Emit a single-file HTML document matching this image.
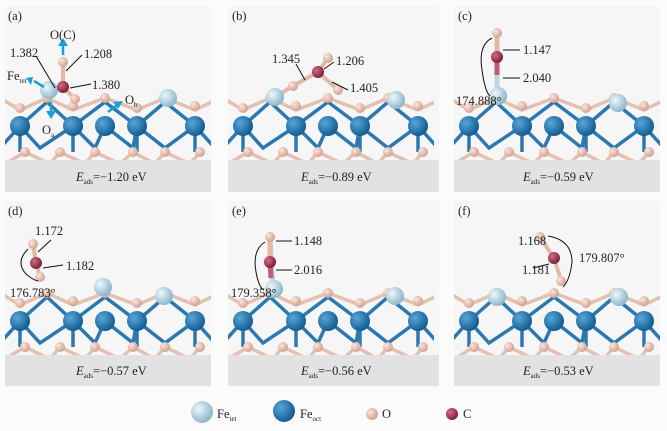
<!DOCTYPE html>
<html><head><meta charset="utf-8"><style>
html,body{margin:0;padding:0;background:#fbfbfb;}
svg{display:block}
text{font-family:"Liberation Serif",serif;font-size:12.5px;fill:#222}
</style></head><body>
<svg width="667" height="431" viewBox="0 0 667 431" xmlns="http://www.w3.org/2000/svg">
<defs>
<radialGradient id="gt" cx="35%" cy="35%" r="65%"><stop offset="0" stop-color="#eef7fb"/><stop offset="1" stop-color="#8fb8cb"/></radialGradient>
<radialGradient id="go" cx="35%" cy="35%" r="65%"><stop offset="0" stop-color="#5aa6d8"/><stop offset="1" stop-color="#135e94"/></radialGradient>
<radialGradient id="gp" cx="35%" cy="35%" r="65%"><stop offset="0" stop-color="#fbe6dc"/><stop offset="1" stop-color="#d1a393"/></radialGradient>
<radialGradient id="gc" cx="35%" cy="35%" r="65%"><stop offset="0" stop-color="#d66b85"/><stop offset="1" stop-color="#7d2139"/></radialGradient>
<clipPath id="cp"><rect x="0" y="0" width="206" height="154"/></clipPath>
<g id="slab">
 <g stroke-width="3.5">
  <path d="M-5,92 L15,104 L42,92 L68,104 L100,92 L132,104 L160,92 L190,104 L215,92" stroke="#e3c0b0" fill="none"/>
  <path d="M-5,142 L15,120 L35,142 L68,120 L90,142 L100,120 L128,142 L132,120 L160,142 L190,120 L210,142" stroke="#2b78b0" fill="none"/>
  <path d="M15,120 L42,96 M68,120 L42,96 M68,120 L100,96 M132,120 L100,96 M132,120 L160,96 M190,120 L160,96" stroke="#2b78b0" fill="none"/>
  <path d="M0,158 L20,146 L45,158 L55,146 L80,158 L90,146 L115,158 L128,146 L150,158 L160,146 L185,158 L195,146" stroke="#e3c0b0" fill="none"/>
  <path d="M15,120 V146 M68,120 V146 M132,120 V146 M190,120 V146" stroke="#2b78b0"/>
 </g>
 <g fill="url(#gp)">
  <circle cx="15" cy="102" r="5"/><circle cx="42" cy="92" r="5"/><circle cx="68" cy="100" r="5"/><circle cx="100" cy="92" r="5"/><circle cx="132" cy="102" r="5"/><circle cx="160" cy="92" r="5"/><circle cx="190" cy="100" r="5"/>
  <circle cx="20" cy="146" r="5"/><circle cx="55" cy="146" r="5"/><circle cx="90" cy="146" r="5"/><circle cx="128" cy="146" r="5"/><circle cx="160" cy="146" r="5"/><circle cx="195" cy="146" r="5"/>
 </g>
 <g fill="url(#go)">
  <circle cx="15" cy="120" r="10"/><circle cx="68" cy="120" r="10"/><circle cx="100" cy="120" r="10"/><circle cx="132" cy="120" r="10"/><circle cx="190" cy="120" r="10"/>
 </g>
</g>
</defs>

<g>
 <rect x="5" y="6" width="206" height="186" fill="#f6f6f6"/><rect x="5" y="160" width="206" height="32" fill="#e2e2e2"/>
 <rect x="228" y="6" width="211" height="186" fill="#f6f6f6"/><rect x="228" y="160" width="211" height="32" fill="#e2e2e2"/>
 <rect x="454" y="6" width="206" height="186" fill="#f6f6f6"/><rect x="454" y="160" width="206" height="32" fill="#e2e2e2"/>
 <rect x="5" y="201" width="206" height="185" fill="#f6f6f6"/><rect x="5" y="355" width="206" height="31" fill="#e2e2e2"/>
 <rect x="228" y="201" width="211" height="185" fill="#f6f6f6"/><rect x="228" y="355" width="211" height="31" fill="#e2e2e2"/>
 <rect x="454" y="201" width="206" height="185" fill="#f6f6f6"/><rect x="454" y="355" width="206" height="31" fill="#e2e2e2"/>
</g>
<g transform="translate(5,6)"><g clip-path="url(#cp)"><use href="#slab"/></g></g>
<g transform="translate(228,6)"><g clip-path="url(#cp)"><use href="#slab"/></g></g>
<g transform="translate(454,6)"><g clip-path="url(#cp)"><use href="#slab"/></g></g>
<g transform="translate(5,201)"><g clip-path="url(#cp)"><use href="#slab"/></g></g>
<g transform="translate(228,201)"><g clip-path="url(#cp)"><use href="#slab"/></g></g>
<g transform="translate(454,201)"><g clip-path="url(#cp)"><use href="#slab"/></g></g>

<!-- (a) -->
<text x="8" y="20">(a)</text>
<line x1="48" y1="90" x2="63" y2="87" stroke="#c9a9b0" stroke-width="4"/>
<line x1="63" y1="87" x2="63" y2="62" stroke="#e3b9a6" stroke-width="4"/>
<line x1="63" y1="87" x2="75" y2="99" stroke="#e3b9a6" stroke-width="4"/>
<circle cx="49" cy="90" r="9" fill="url(#gt)"/>
<circle cx="168" cy="98" r="9" fill="url(#gt)"/>
<circle cx="63" cy="62" r="5" fill="url(#gp)"/>
<circle cx="63" cy="87" r="6" fill="url(#gc)"/>
<circle cx="75" cy="99" r="5" fill="url(#gp)"/>
<g stroke="#1aa0d8" stroke-width="2.5" fill="#1aa0d8">
<line x1="63" y1="55" x2="63" y2="45"/><path d="M58,46 L63,38 L68,46Z" stroke="none"/>
<line x1="44" y1="87" x2="34" y2="81"/><path d="M33,77 L26,78 L31,85Z" stroke="none"/>
<line x1="51" y1="102" x2="51" y2="112"/><path d="M46,111 L51,119 L56,111Z" stroke="none"/>
<line x1="108" y1="112" x2="116" y2="106"/><path d="M113,102 L123,101 L118,109Z" stroke="none"/>
</g>
<g stroke="#111" stroke-width="1">
<line x1="36" y1="56" x2="55" y2="88"/><line x1="66" y1="71" x2="82" y2="55"/><line x1="70" y1="88" x2="91" y2="84"/>
</g>
<text x="50" y="39">O(C)</text><text x="10" y="57">1.382</text><text x="84" y="58">1.208</text>
<text x="7" y="80">Fe<tspan font-size="7" dy="3">tet</tspan></text>
<text x="92" y="89">1.380</text><text x="125" y="104">O<tspan font-size="7" dy="3">b</tspan></text>
<text x="42" y="134">O<tspan font-size="7" dy="3">a</tspan></text>

<!-- (b) -->
<text x="232" y="20">(b)</text>
<g stroke="#e3b9a6" stroke-width="4"><line x1="275" y1="97" x2="293" y2="86"/><line x1="293" y1="86" x2="318" y2="72"/><line x1="318" y1="72" x2="328" y2="58"/><line x1="318" y1="72" x2="338" y2="90"/></g>
<circle cx="275" cy="97" r="9" fill="url(#gt)"/><circle cx="396" cy="100" r="9" fill="url(#gt)"/>
<circle cx="293" cy="86" r="5" fill="url(#gp)"/><circle cx="328" cy="58" r="5" fill="url(#gp)"/><circle cx="338" cy="90" r="5" fill="url(#gp)"/>
<circle cx="318" cy="72" r="6" fill="url(#gc)"/>
<g stroke="#111"><line x1="296" y1="64" x2="305" y2="80"/><line x1="324" y1="69" x2="334" y2="62"/><line x1="332" y1="82" x2="348" y2="90"/></g>
<text x="272" y="63">1.345</text><text x="336" y="65">1.206</text><text x="350" y="92">1.405</text>

<!-- (c) -->
<text x="458" y="20">(c)</text>
<line x1="497" y1="34" x2="497" y2="95" stroke="#b9d6e2" stroke-width="5"/>
<line x1="497" y1="34" x2="497" y2="57" stroke="#e3b9a6" stroke-width="5"/>
<line x1="497" y1="57" x2="497" y2="75" stroke="#c35a75" stroke-width="5"/>
<circle cx="498" cy="96" r="9" fill="url(#gt)"/><circle cx="618" cy="103" r="9" fill="url(#gt)"/>
<circle cx="497" cy="33" r="5" fill="url(#gp)"/><circle cx="497" cy="57" r="6" fill="url(#gc)"/>
<g stroke="#111" fill="none"><line x1="503" y1="50" x2="520" y2="50"/><line x1="503" y1="78" x2="520" y2="78"/><path d="M492,38 Q478,45 482,70 Q485,92 490,96"/></g>
<text x="523" y="54">1.147</text><text x="523" y="82">2.040</text><text x="456" y="105">174.888°</text>

<!-- (d) -->
<text x="8" y="215">(d)</text>
<g stroke="#e3b9a6" stroke-width="4"><line x1="33" y1="244" x2="36" y2="263"/><line x1="36" y1="263" x2="40" y2="277"/></g>
<circle cx="103" cy="287" r="9" fill="url(#gt)"/><circle cx="164" cy="296" r="9" fill="url(#gt)"/>
<circle cx="33" cy="244" r="5" fill="url(#gp)"/><circle cx="36" cy="263" r="6" fill="url(#gc)"/><circle cx="40" cy="277" r="5" fill="url(#gp)"/>
<g stroke="#111" fill="none"><line x1="38" y1="252" x2="51" y2="240"/><line x1="43" y1="268" x2="63" y2="265"/><path d="M28,249 Q15,262 26,274 Q33,280 38,281"/></g>
<text x="35" y="235">1.172</text><text x="66" y="270">1.182</text><text x="10" y="297">176.783°</text>

<!-- (e) -->
<text x="232" y="215">(e)</text>
<line x1="270" y1="238" x2="273" y2="288" stroke="#b9d6e2" stroke-width="5"/>
<line x1="270" y1="238" x2="270" y2="262" stroke="#e3b9a6" stroke-width="5"/>
<line x1="270" y1="262" x2="271" y2="278" stroke="#c35a75" stroke-width="5"/>
<circle cx="274" cy="289" r="9" fill="url(#gt)"/><circle cx="395" cy="296" r="9" fill="url(#gt)"/>
<circle cx="270" cy="237" r="5" fill="url(#gp)"/><circle cx="270" cy="262" r="6" fill="url(#gc)"/>
<g stroke="#111" fill="none"><line x1="276" y1="241" x2="292" y2="241"/><line x1="276" y1="270" x2="292" y2="270"/><path d="M265,242 Q252,250 256,272 Q259,288 264,290"/></g>
<text x="294" y="245">1.148</text><text x="294" y="274">2.016</text><text x="231" y="297">179.358°</text>

<!-- (f) -->
<text x="458" y="215">(f)</text>
<g stroke="#e3b9a6" stroke-width="4"><line x1="540" y1="237" x2="554" y2="258"/><line x1="554" y1="258" x2="561" y2="280"/></g>
<circle cx="497" cy="297" r="9" fill="url(#gt)"/><circle cx="619" cy="297" r="9" fill="url(#gt)"/>
<circle cx="540" cy="237" r="5" fill="url(#gp)"/><circle cx="554" cy="258" r="6" fill="url(#gc)"/><circle cx="561" cy="281" r="5" fill="url(#gp)"/>
<g stroke="#111" fill="none"><line x1="549" y1="264" x2="533" y2="268"/><path d="M548,236 Q572,240 572,262 Q570,280 563,287"/></g>
<text x="518" y="245">1.168</text><text x="522" y="274">1.181</text><text x="579" y="262">179.807°</text>

<g>
<text x="76" y="181"><tspan font-style="italic">E</tspan><tspan font-size="7" dy="3">ads</tspan><tspan dy="-3">=−1.20 eV</tspan></text>
<text x="301" y="181"><tspan font-style="italic">E</tspan><tspan font-size="7" dy="3">ads</tspan><tspan dy="-3">=−0.89 eV</tspan></text>
<text x="523" y="181"><tspan font-style="italic">E</tspan><tspan font-size="7" dy="3">ads</tspan><tspan dy="-3">=−0.59 eV</tspan></text>
<text x="76" y="375"><tspan font-style="italic">E</tspan><tspan font-size="7" dy="3">ads</tspan><tspan dy="-3">=−0.57 eV</tspan></text>
<text x="301" y="375"><tspan font-style="italic">E</tspan><tspan font-size="7" dy="3">ads</tspan><tspan dy="-3">=−0.56 eV</tspan></text>
<text x="523" y="375"><tspan font-style="italic">E</tspan><tspan font-size="7" dy="3">ads</tspan><tspan dy="-3">=−0.53 eV</tspan></text>
</g>

<circle cx="202" cy="412" r="11" fill="url(#gt)"/><text x="217" y="418">Fe<tspan font-size="7" dy="3">tet</tspan></text>
<circle cx="284" cy="411" r="11" fill="url(#go)"/><text x="300" y="418">Fe<tspan font-size="7" dy="3">oct</tspan></text>
<circle cx="372" cy="414" r="6" fill="url(#gp)"/><text x="382" y="418">O</text>
<circle cx="452" cy="414" r="6" fill="url(#gc)"/><text x="463" y="418">C</text>
</svg>
</body></html>
